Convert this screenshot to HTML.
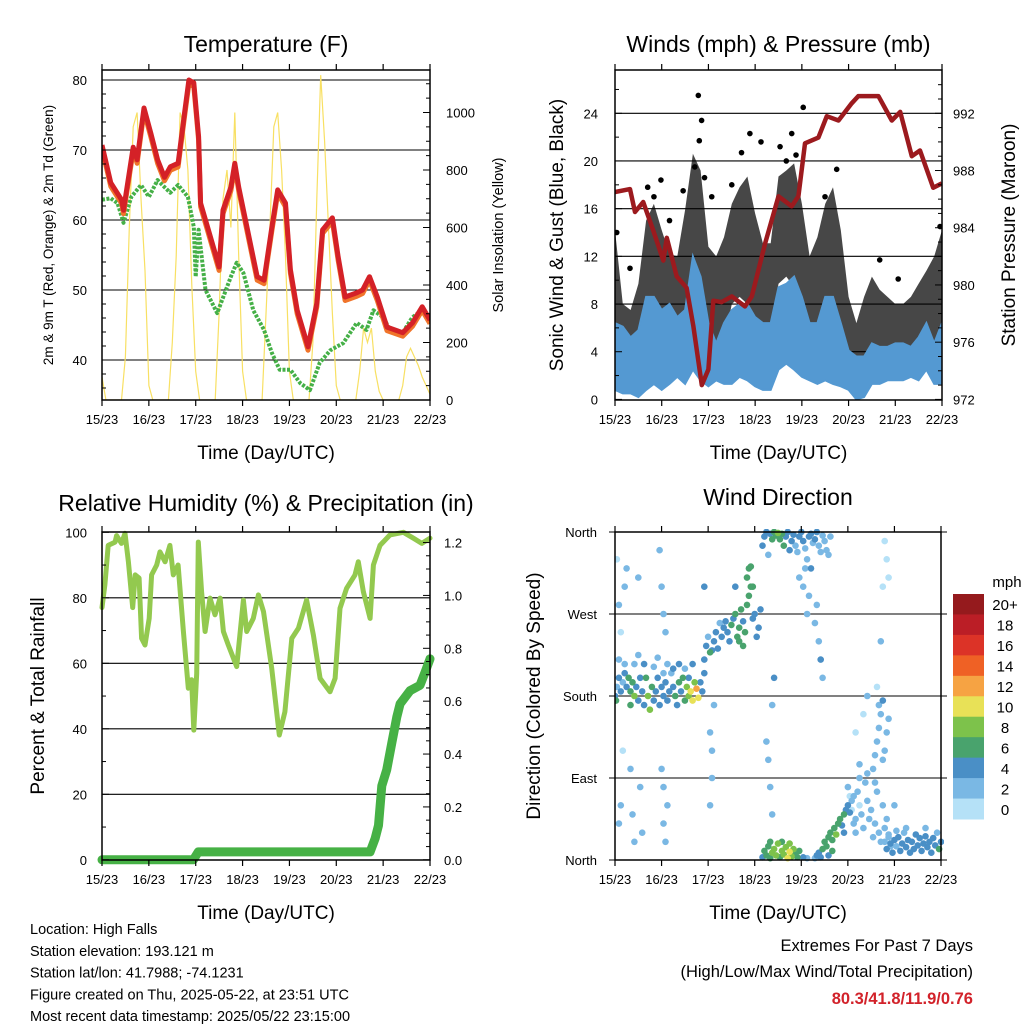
<!DOCTYPE html>
<html><head><meta charset="utf-8"><style>
html,body{margin:0;padding:0;background:#fff;}
svg{display:block;font-family:"Liberation Sans",Arial,sans-serif;}
</style></head><body>
<svg id="chart" width="1024" height="1024" viewBox="0 0 1024 1024" xmlns="http://www.w3.org/2000/svg">
<g id="layer"></g>
</svg>
<script>
// ---------- DATA ----------
const dayLabels = ["15/23","16/23","17/23","18/23","19/23","20/23","21/23","22/23"];
const tempTicks = [40,50,60,70,80];
const solarTicks = [0,200,400,600,800,1000];
const windTicks = [0,4,8,12,16,20,24];
const presTicks = [972,976,980,984,988,992];
const rhTicks = [0,20,40,60,80,100];
const precipTicks = ["0.0","0.2","0.4","0.6","0.8","1.0","1.2"];
const dirTicks = ["North","East","South","West","North"];
const speedBins = ["0","2","4","6","8","10","12","14","16","18","20+"];

const tempHours = [0,4.5,10,11,16,18,21.5,25,28.5,32,35,39,42,44.5,47,49.5,50.5,55.5,60,62,66,68,70,74.5,79.5,83,87,90,94,96.5,100,105.5,110,113,118,121,124.5,130.5,133.5,137,141,146,154,159,164,168];
const tempValues = [70.7,65.3,62.9,61.4,70.4,68.6,76,72.4,68.6,66.1,67.6,68.1,74.7,80,79.6,71.9,62.4,57.6,53.3,61.4,64.7,68.1,64.7,58.6,51.9,51.4,59,64.3,62.4,52.9,47.1,41.9,48.1,58.6,60.3,54.7,49,49.6,50,51.9,49,44.7,43.9,45.3,47.6,45.7];
const dewHours = [0,4.5,8,11,15,20,24,28.5,32,35,39,44,47,48,49.5,53,59,66,69,72.5,77.5,83,87,91,96.5,101.5,106.5,111.5,117,123.5,130.5,135.5,139,144,147.5,154,159,164,168];
const dewValues = [62.9,63.1,62.4,59.6,63.3,65,63.3,65.7,64.7,63.9,65,63.3,59,51.9,58.6,50,46.7,51.9,53.9,52.4,47.1,44.3,41,38.6,38.6,36.7,35.7,39.6,41.4,42.4,45.3,44.3,47.1,46.1,44.3,43.9,46.1,47.1,45.3];
const solarHours = [0,2,10,12,14,16,18,20,22,24,26,34,36,38,40,42,44,46,48,50,58,60,62,64,66,68,70,72,74,82,84,86,88,90,92,94,96,98,106,108,110,112,114,116,118,120,122,130,132,134,136,138,140,142,144,152,154,156,158,160,162,164,166,168];
const solarValues = [80,0,0,150,600,950,1000,700,450,50,0,0,200,500,1000,950,800,400,100,0,0,300,700,800,600,1000,500,100,0,0,300,600,950,1000,800,500,100,0,0,200,700,1130,900,600,300,50,0,0,100,250,200,250,100,30,0,0,50,150,180,150,120,80,50,20];

const presHours = [0,7.7,10.3,14.5,19.7,24.8,26.6,31.7,36.8,40.3,44.6,48,50.5,54.8,60,66.8,70.3,77.1,84,90.8,94.2,97.6,104.5,108.8,114.8,121.6,125,135.3,142.2,146.5,152.5,156.7,163.5,167.9];
const presValues = [986.5,986.7,985.1,985.8,983.8,981.7,983.3,980.6,979.8,977.1,973.0,974.1,978.9,978.8,979.2,978.5,979.2,982.9,986.2,985.5,986.2,989.9,990.3,991.8,991.5,992.7,993.2,993.2,991.5,992.1,989.0,989.4,986.8,987.1];
const windHours = [0,4,8,12,16,20,24,28,32,36,40,44,48,52,56,60,64,68,72,76,80,84,88,92,96,100,104,108,112,116,120,124,128,132,136,140,144,148,152,156,160,164,168];
const windLow = [0.8,0.5,0.5,0.2,0.8,1.3,0.8,1.3,1.9,1.3,2.5,1.6,1.1,1.6,1.3,1.3,1.9,1.6,1.1,0.8,0.8,2.5,3,2.5,1.9,1.6,1.3,1.6,1.3,1.1,0.8,0,0.2,1.3,1.3,1.6,1.6,1.6,1.9,1.6,2.5,1.3,1.3];
const windHigh = [6.4,6.1,5.2,5.8,8.6,8.6,7.5,8,6.9,7.5,12,10.3,6.4,4.7,6.4,7.5,8,8,6.9,6.4,6.4,9.4,9.7,10.3,8.6,6.4,6.4,8.6,8.6,6.4,4.1,3.6,3.6,4.7,4.4,4.4,4.7,4.7,4.4,5.2,6.4,4.7,6.4];
const gustLow = [4.1,3,3,2.7,4.7,6.6,5.3,4.1,5.3,6.4,8,6.4,4.1,3.6,4.7,8,8.6,8,6.4,5.3,5.5,9.7,10.3,9.4,8,3,3.6,5.8,8,5.8,2.5,1.9,2.5,3.6,3.6,3.9,3.6,3.9,4.1,4.7,5.3,4.1,5.3];
const gustHigh = [14.2,8,7.5,9.7,15,16.4,14.2,12.2,12,15.9,20.6,19.2,12.8,12,13.6,16.4,17.8,18.7,15.6,13.1,13.1,18.7,19.2,19.8,16.4,12,13.6,16.4,17.8,14.2,8.6,6.4,8.6,10.3,9.2,8.6,8,8,8.6,9.7,10.8,12,14.2];
const gustOutHours = [42.8,44.5,43.3,69.3,75,96.7,90.8,84.8,65,23.6,16.8,113.9,107.9,136,145.5,167,35,49.7,0.9,7.7,125.9,41,46,88,93,60,20,28];
const gustOutValues = [25.5,23.4,21.7,22.3,21.6,24.5,22.3,21.2,20.7,18.4,17.8,19.3,17,11.7,10.1,14.5,17.5,17,14,11,0.3,19.5,18.6,20,20.5,18,17,15];

const rhHours = [0,1.5,3.2,6.7,7.5,10,11.8,13.5,15.7,17,19,20.3,22,24.2,25.4,28,29.7,32.3,34.8,36.5,39,41.7,44.2,45.9,47,48.5,49.3,51,52.8,55.3,57.9,60.5,62.2,64.7,69,72.4,74.1,77.5,80.1,82.7,86.9,90.8,93.7,97.2,100.6,104.8,108.3,111.7,116.8,119.4,121.9,125.3,129.6,131.3,133.9,137.3,139,142.4,147.5,154.4,159.5,163.8,168];
const rhValues = [77,84,96,97,99,96.6,99.7,91,77,87,86,67.6,65.6,73.7,87,90,94,91,96,87,90,69.7,52.4,55,39.6,56.9,97,81.8,69.7,79.9,74.8,79.9,69.7,65.6,59,79.3,69.7,73.7,80.9,75.8,58.5,38.1,45.2,67.6,70.7,79.3,68.6,55.4,51.3,55.4,76.8,82.9,87,91,81.8,73.7,90,96,99.2,100,98.2,96.6,98.2];
const precipHours = [0,46.8,49.3,137.3,139.9,141.6,143.3,145.8,148.4,151,152.7,157.8,162.9,165.5,168];
const precipValues = [0,0,0.03,0.03,0.08,0.13,0.28,0.34,0.44,0.54,0.59,0.64,0.66,0.71,0.76];

// wind direction obs: [hour, direction deg, speed mph]
const dirObs = [
[0,180,4],[0.5,175,6],[1,190,2],[2,200,4],[3,185,4],[4,195,2],[5,205,4],[6,190,4],[7,200,6],[8,185,6],[8,170,6],[9,195,7],[10,180,8],[11,190,4],[12,175,4],[13,200,4],[14,185,5],[15,170,4],[16,200,6],[17,180,8],[18,165,8],[19,190,7],[20,175,4],[21,185,4],[22,200,4],[23,170,4],[24,190,4],[25,180,4],[26,195,4],[27,175,4],[28,185,4],[29,205,3],[30,190,4],[31,180,6],[32,170,4],[33,195,6],[34,185,4],[35,200,6],[36,175,6],[37,190,8],[38,180,9],[39,185,10],[40,175,10],[41,195,9],[42,188,12],[43,178,10],[44,195,4],[45,185,4],[46,205,4],[38,200,4],[36,210,3],[30,210,4],[25,205,3],[20,212,3],[15,215,4],[10,215,3],[5,215,3],[2,220,2],[12,225,3],[22,222,3],[27,215,3],[33,215,4],[40,215,4],
[46,220,4],[47,235,4],[48,245,3],[49,228,6],[50,230,4],[51,240,4],[52,250,4],[53,232,4],[54,260,3],[55,245,4],[56,255,4],[57,262,4],[58,250,4],[59,240,4],[60,258,6],[61,265,4],[62,270,6],[63,245,6],[64,255,7],[65,275,6],[66,262,4],[67,250,6],[68,280,6],[69,290,7],[70,300,7],[71,265,4],[72,270,4],[73,245,4],[74,255,4],[75,275,4],[68,310,6],[69,320,6],[70,322,7],[71,300,6],[62,300,4],[66,235,7],[64,240,7],
[76,345,4],[77,355,4],[78,360,4],[79,335,3],[80,358,4],[81,352,6],[82,360,6],[83,356,7],[84,359,8],[85,352,6],[86,358,6],[87,345,6],[88,355,4],[89,360,4],[90,340,4],[91,350,4],[92,357,4],[93,345,3],[94,338,3],[95,355,4],[96,360,4],[97,350,4],[98,342,3],[99,330,3],[100,355,4],[101,358,4],[102,348,3],[103,352,4],[104,360,4],[105,345,3],[106,338,3],[107,356,3],[108,350,3],[109,340,3],[110,335,3],[111,355,3],[95,310,3],[97,300,3],[98,320,3],[100,290,3],[101,320,4],[99,270,3],
[76,3,4],[77,10,6],[78,5,6],[79,15,7],[80,2,7],[81,8,8],[82,12,8],[83,5,8],[84,18,8],[85,3,7],[86,10,8],[87,6,9],[88,14,9],[89,2,10],[90,9,10],[91,4,9],[92,12,8],[93,6,7],[94,3,6],[95,10,6],[80,20,6],[86,20,7],[90,18,9],[97,3,4],[99,2,3],
[103,2,3],[104,5,4],[105,8,4],[106,3,4],[107,12,6],[108,20,6],[109,15,7],[110,25,6],[111,30,6],[112,22,7],[113,35,6],[114,28,8],[115,40,6],[116,45,6],[117,38,4],[118,50,6],[119,55,4],[120,60,4],[121,52,4],[122,65,3],[123,70,3],[124,45,3],[118,30,4],[112,10,6],[110,5,4],
[120,80,2],[121,70,1],[122,55,1],[123,40,2],[124,30,2],[125,75,2],[126,60,1],[127,50,2],[128,35,2],[129,85,3],[130,65,2],[131,45,3],[132,55,2],[133,25,2],[134,40,3],[135,75,2],[136,30,3],[137,20,2],[138,60,2],[139,35,3],[140,45,2],[141,25,3],[142,15,2],[126,90,3],[130,95,2],[134,85,2],
[139,20,3],[140,12,4],[141,28,3],[142,18,4],[143,8,4],[144,22,4],[145,15,3],[146,25,4],[147,10,4],[148,18,4],[149,30,3],[150,14,4],[151,22,4],[152,8,4],[153,20,5],[154,12,4],[155,28,4],[156,16,5],[157,24,4],[158,10,4],[159,18,5],[160,26,4],[161,14,4],[162,20,5],[163,8,4],[164,24,4],[165,16,4],[166,30,3],[167,12,6],[168,20,4],[150,35,3],[160,35,3],[145,32,3],
[133,100,2],[134,115,2],[135,130,3],[136,145,2],[137,160,3],[138,175,4],[139,120,3],[140,140,3],[141,155,3],[136,170,3],[138,110,3],[130,180,2],[128,160,1],[126,105,2],[124,140,1],[135,190,1],
[1,330,1],[2,280,2],[3,250,1],[4,120,1],[3,60,3],[2,40,3],[5,300,2],[6,320,2],[8,100,2],[9,50,3],[10,20,3],[12,310,2],[13,80,2],[14,30,3],[23,340,3],[24,300,3],[25,270,3],[26,250,3],[24,100,3],[25,80,3],[25,40,3],[26,20,3],[27,60,2],[49,140,2],[50,120,3],[50,90,2],[49,60,3],[51,170,3],[46,300,4],[78,130,3],[79,110,2],[80,80,3],[81,50,3],[82,200,4],[81,170,2],[104,280,3],[105,240,3],[106,220,4],[107,200,2],[103,260,2],[139,350,1],[140,330,1],[141,310,1],[138,300,1],[137,240,2],[144,60,3]
];

// ---------- STYLE / LAYOUT ----------
const binColors = ["#b5e1f7","#7ab8e4","#4a8fc6","#49a36d","#7dc24b","#e8e157","#f6a343","#ef6125","#dc3327","#bb1e26","#951a1d"];
const NS = "http://www.w3.org/2000/svg";
const root = document.getElementById("layer");
function el(tag, attrs, parent){
  const e = document.createElementNS(NS, tag);
  for (const k in attrs) e.setAttribute(k, attrs[k]);
  (parent||root).appendChild(e);
  return e;
}
function txt(s, x, y, size, anchor, parent, extra){
  const t = el("text", Object.assign({x:x, y:y, "font-size":size, "text-anchor":anchor||"middle", fill:"#000"}, extra||{}), parent);
  t.textContent = s;
  return t;
}
function pathFrom(xs, ys, sx, sy){
  let d = "";
  for (let i=0;i<xs.length;i++) d += (i?"L":"M") + sx(xs[i]).toFixed(1) + "," + sy(ys[i]).toFixed(1);
  return d;
}
function lin(d0,d1,r0,r1){ return v => r0 + (v-d0)*(r1-r0)/(d1-d0); }

function panelFrame(g, L, R, T, B){
  const f = el("rect", {x:L, y:T, width:R-L, height:B-T, fill:"none", stroke:"#000", "stroke-width":1.5}, g);
  
  
}
function xAxis(g, L, R, T, B, sx){
  const ax = el("g", {}, g);
  
  
  dayLabels.forEach((lab, i) => {
    const x = sx(i*24);
    el("line", {x1:x, x2:x, y1:B, y2:B+6, stroke:"#000", "stroke-width":1.2}, ax);
    el("line", {x1:x, x2:x, y1:T, y2:T-6, stroke:"#000", "stroke-width":1.2}, ax);
    const t = txt(lab, x, B+24, 13, "middle", ax);
    
    
  });
  const at = txt("Time (Day/UTC)", (L+R)/2, B+59, 19, "middle", ax);
  
  
}
function grid(g, L, R, ys){
  ys.forEach(y => el("line", {x1:L, x2:R, y1:y, y2:y, stroke:"#000", "stroke-width":1.1}, g));
}

// ===== Panel 1: Temperature =====
(function(){
  const L=102, R=430, T=70, B=400;
  const g = el("g", {});  
  const sx = lin(0,168,L,R), sy = lin(40,80,360,80), ss = lin(0,1000,B,112.5);
  const cp = el("clipPath", {id:"c1"}, g); el("rect", {x:L,y:T,width:R-L,height:B-T}, cp);
  const gl = el("g", {}, g);  
  grid(gl, L, R, tempTicks.map(sy));
  const data = el("g", {"clip-path":"url(#c1)"}, g);
  const sol = el("path", {d:pathFrom(solarHours, solarValues, sx, ss), fill:"none", stroke:"#f8e063", "stroke-width":1.2}, data);
   
  const dew = el("path", {d:pathFrom(dewHours, dewValues, sx, sy), fill:"none", stroke:"#45b047", "stroke-width":4, "stroke-dasharray":"3,1.5", "stroke-linejoin":"round"}, data);
   
  const t9 = el("path", {d:pathFrom(tempHours, tempValues.map(v=>v-0.5), sx, sy), fill:"none", stroke:"#f0742a", "stroke-width":5, "stroke-linejoin":"round"}, data);
   
  const t2 = el("path", {d:pathFrom(tempHours, tempValues, sx, sy), fill:"none", stroke:"#d42127", "stroke-width":5, "stroke-linejoin":"round"}, data);
   
  panelFrame(g, L, R, T, B);
  xAxis(g, L, R, T, B, sx);
  const ya = el("g", {}, g);  
  for (let v=36; v<=80; v+=2){ const y=sy(v); el("line",{x1:L,x2:L+(v%10?4:7),y1:y,y2:y,stroke:"#000"},ya); }
  tempTicks.forEach(v => txt(String(v), 87, sy(v)+5, 13, "end", ya));
  const yt = txt("2m & 9m T (Red, Orange) & 2m Td (Green)", 0, 0, 13.5, "middle", ya, {transform:"translate(53,235) rotate(-90)"});
   
  const yr = el("g", {}, g);  
  for (let v=0; v<=1100; v+=50){ const y=ss(v); el("line",{x1:R,x2:R-(v%200?4:7),y1:y,y2:y,stroke:"#000"},yr); }
  solarTicks.forEach(v => txt(String(v), 446, ss(v)+5, 13, "start", yr));
  const yt2 = txt("Solar Insolation (Yellow)", 0, 0, 14.5, "middle", yr, {transform:"translate(503,235) rotate(-90)"});
   
  const ti = txt("Temperature (F)", (L+R)/2, 52, 23, "middle", g);
   
})();

// ===== Panel 2: Winds & Pressure =====
(function(){
  const L=615, R=942, T=70, B=400;
  const g = el("g", {});  
  const sx = lin(0,168,L,R), sy = lin(0,24,399.4,113.3), sp = lin(972,992,399.4,113.3);
  const cp = el("clipPath", {id:"c2"}, g); el("rect", {x:L,y:T,width:R-L,height:B-T}, cp);
  const gl = el("g", {}, g);  
  grid(gl, L, R, windTicks.slice(1).map(sy));
  const data = el("g", {"clip-path":"url(#c2)"}, g);
  let gd = pathFrom(windHours, gustHigh, sx, sy);
  for (let i=windHours.length-1;i>=0;i--) gd += "L"+sx(windHours[i]).toFixed(1)+","+sy(gustLow[i]).toFixed(1);
  const gb = el("path", {d:gd+"Z", fill:"#000", "fill-opacity":0.72, stroke:"none"}, data);
   
  gustOutHours.forEach((h,i) => {
    const c = el("circle", {cx:sx(h), cy:sy(gustOutValues[i]), r:2.8, fill:"#000"}, data);
     
  });
  let wd = pathFrom(windHours, windHigh, sx, sy);
  for (let i=windHours.length-1;i>=0;i--) wd += "L"+sx(windHours[i]).toFixed(1)+","+sy(windLow[i]).toFixed(1);
  const wb = el("path", {d:wd+"Z", fill:"#5499d2", stroke:"#5499d2", "stroke-width":2}, data);
   
  const pl = el("path", {d:pathFrom(presHours, presValues, sx, sp), fill:"none", stroke:"#9c1a1e", "stroke-width":4.5, "stroke-linejoin":"round"}, data);
   
  panelFrame(g, L, R, T, B);
  xAxis(g, L, R, T, B, sx);
  const ya = el("g", {}, g);  
  for (let v=0; v<=26; v+=2){ const y=sy(v); el("line",{x1:L,x2:L+(v%4?4:7),y1:y,y2:y,stroke:"#000"},ya); }
  windTicks.forEach(v => txt(String(v), 598, sy(v)+5, 13, "end", ya));
  const yt = txt("Sonic Wind & Gust (Blue, Black)", 0, 0, 19, "middle", ya, {transform:"translate(563,235) rotate(-90)"});
   
  const yr = el("g", {}, g);  
  for (let v=972; v<=994; v+=1){ const y=sp(v); el("line",{x1:R,x2:R-(v%4?4:7),y1:y,y2:y,stroke:"#000"},yr); }
  presTicks.forEach(v => txt(String(v), 953, sp(v)+5, 13, "start", yr));
  const yt2 = txt("Station Pressure (Maroon)", 0, 0, 19, "middle", yr, {transform:"translate(1015,235) rotate(-90)"});
   
  const ti = txt("Winds (mph) & Pressure (mb)", (L+R)/2, 52, 23, "middle", g);
   
})();

// ===== Panel 3: RH & Precip =====
(function(){
  const L=102, R=430, T=532, B=860;
  const g = el("g", {});  
  const sx = lin(0,168,L,R), sy = lin(0,100,859.8,532.3), sp = lin(0,0.8,859.8,648.3);
  const gl = el("g", {}, g);  
  grid(gl, L, R, rhTicks.slice(1,5).map(sy));
  const data = el("g", {}, g);
  const rh = el("path", {d:pathFrom(rhHours, rhValues, sx, sy), fill:"none", stroke:"#93c94f", "stroke-width":5, "stroke-linejoin":"round", "stroke-linecap":"round"}, data);
   
  const pr = el("path", {d:pathFrom(precipHours, precipValues, sx, sp), fill:"none", stroke:"#46b145", "stroke-width":9, "stroke-linejoin":"round", "stroke-linecap":"round"}, data);
   
  panelFrame(g, L, R, T, B);
  xAxis(g, L, R, T, B, sx);
  const ya = el("g", {}, g);  
  for (let v=0; v<=100; v+=10){ const y=sy(v); el("line",{x1:L,x2:L+(v%20?4:7),y1:y,y2:y,stroke:"#000"},ya); }
  rhTicks.forEach(v => txt(String(v), 87, sy(v)+5, 13, "end", ya));
  const yt = txt("Percent & Total Rainfall", 0, 0, 19, "middle", ya, {transform:"translate(44,696) rotate(-90)"});
   
  const yr = el("g", {}, g);  
  for (let k=0; k<=24; k++){ const v=k*0.05; const y=sp(v); if (y<T) continue; el("line",{x1:R,x2:R-(k%4?4:7),y1:y,y2:y,stroke:"#000"},yr); }
  precipTicks.forEach(s => txt(s, 444, sp(parseFloat(s))+5, 13, "start", yr));
  const ti = txt("Relative Humidity (%) & Precipitation (in)", 266, 511, 23, "middle", g);
   
})();

// ===== Panel 4: Wind Direction =====
(function(){
  const L=615, R=941, T=532, B=860;
  const g = el("g", {});  
  const sx = lin(0,168,L,R), sy = lin(0,360,B,T);
  const gl = el("g", {}, g);  
  grid(gl, L, R, [90,180,270].map(sy));
  const cp = el("clipPath", {id:"c4"}, g); el("rect", {x:L,y:T-3,width:R-L+3,height:B-T+6}, cp);
  const data = el("g", {"clip-path":"url(#c4)"}, g);
  dirObs.slice().sort((a,b)=>a[2]-b[2]).forEach(o => {
    const bin = Math.min(10, Math.floor(o[2]/2));
    const c = el("circle", {cx:sx(o[0]).toFixed(1), cy:sy(o[1]).toFixed(1), r:3.3, fill:binColors[bin]}, data);
     
  });
  panelFrame(g, L, R, T, B);
  xAxis(g, L, R, T, B, sx);
  const ya = el("g", {}, g);  
  dirTicks.forEach((s,i) => {
    const y = sy(i*90);
    el("line",{x1:L,x2:L-6,y1:y,y2:y,stroke:"#000"},ya);
    el("line",{x1:R,x2:R+6,y1:y,y2:y,stroke:"#000"},ya);
    txt(s, 597, y+5, 13, "end", ya);
  });
  const yt = txt("Direction (Colored By Speed)", 0, 0, 19, "middle", ya, {transform:"translate(540,696) rotate(-90)"});
   
  const ti = txt("Wind Direction", (L+R)/2, 505, 23, "middle", g);
   
  const cb = el("g", {});  
  const top = 594, h = 225/11;
  speedBins.forEach((lab, i) => {
    const idx = 10 - i;
    const y = top + i*h;
    const r = el("rect", {x:953, y:y, width:31, height:h+0.5, fill:binColors[idx]}, cb);
     
    txt(speedBins[idx], 1005, y+h/2+6, 15, "middle", cb);
  });
  const u = txt("mph", 1007, 587, 15, "middle", cb);
   
})();

// ===== Footer text =====
(function(){
  const g = el("g", {});  
  const lines = ["Location: High Falls","Station elevation: 193.121 m","Station lat/lon: 41.7988; -74.1231","Figure created on Thu, 2025-05-22, at 23:51 UTC","Most recent data timestamp: 2025/05/22 23:15:00"];
  lines.forEach((s,i) => txt(s, 30, 934 + i*21.8, 14.5, "start", g));
  const e = el("g", {});  
  txt("Extremes For Past 7 Days", 973, 951, 16.5, "end", e);
  txt("(High/Low/Max Wind/Total Precipitation)", 973, 977, 16.5, "end", e);
  const v = txt("80.3/41.8/11.9/0.76", 973, 1004, 16.5, "end", e, {fill:"#d2222a", "font-weight":"bold"});
   
})();
</script>
</body></html>
